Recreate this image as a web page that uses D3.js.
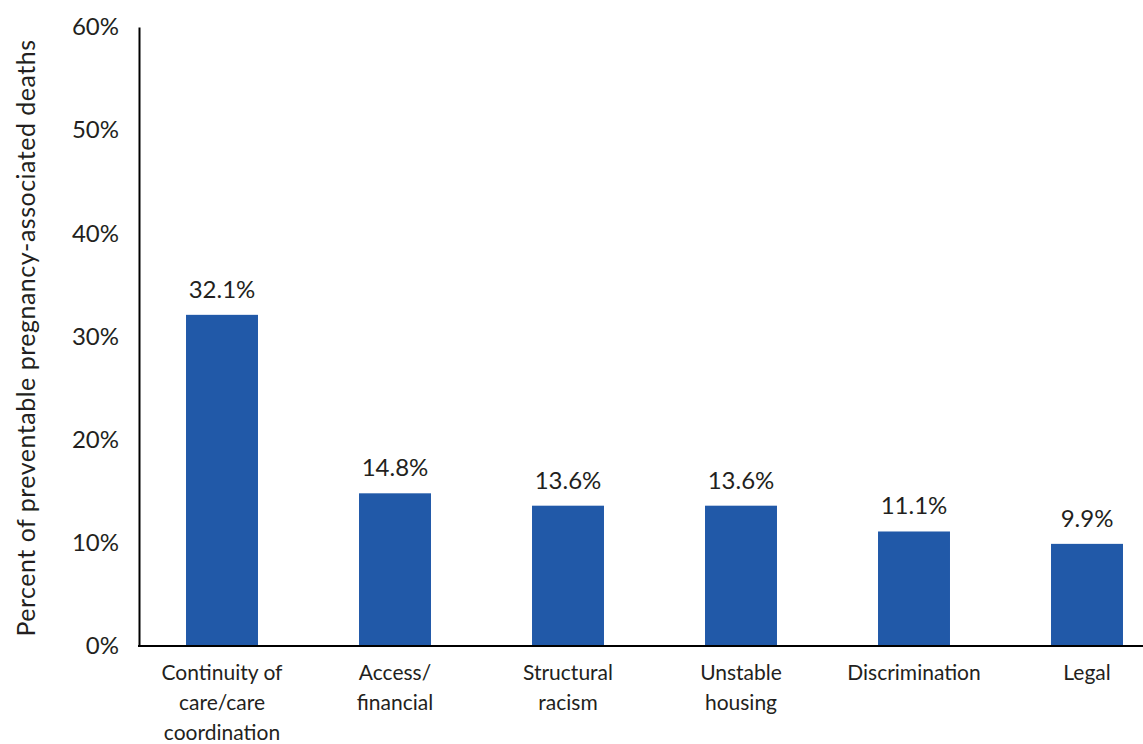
<!DOCTYPE html>
<html>
<head>
<meta charset="utf-8">
<script src="https://cdn.jsdelivr.net/npm/d3@7"></script>
<style>
  html, body { margin: 0; padding: 0; background: #fff; }
  svg { display: block; }
  text { font-family: Lato, "Open Sans", sans-serif; fill: #231f20; }
</style>
</head>
<body>
<svg id="chart" width="1143" height="744"></svg>
<script>
// Contributing factors to preventable pregnancy-associated deaths
const categories = [
  ["Continuity of", "care/care", "coordination"],
  ["Access/", "financial"],
  ["Structural", "racism"],
  ["Unstable", "housing"],
  ["Discrimination"],
  ["Legal"]
];
const values = [32.1, 14.8, 13.6, 13.6, 11.1, 9.9];
const yTicks = [0, 10, 20, 30, 40, 50, 60];
const yTitle = "Percent of preventable pregnancy-associated deaths";

const svg = d3.select("#chart");
const barColor = "#2159a8";

const x = d3.scaleBand()
  .domain(d3.range(categories.length))
  .range([135.5, 1173.5])
  .paddingInner(0.584)
  .paddingOuter(0.292);

const y = d3.scaleLinear().domain([0, 60]).range([646, 27]);

// bars
svg.append("g").selectAll("rect")
  .data(values)
  .join("rect")
  .attr("x", (d, i) => x(i))
  .attr("width", x.bandwidth())
  .attr("y", d => y(d))
  .attr("height", d => y(0) - y(d))
  .attr("fill", barColor);

// value labels
svg.append("g").selectAll("text")
  .data(values)
  .join("text")
  .attr("x", (d, i) => x(i) + x.bandwidth() / 2)
  .attr("y", d => y(d) - 17)
  .attr("text-anchor", "middle")
  .attr("font-size", 24)
  .text(d => d.toFixed(1) + "%");

// y axis
const yAxis = svg.append("g")
  .attr("transform", "translate(139,0)")
  .call(d3.axisLeft(y).tickValues(yTicks).tickSize(0).tickPadding(20).tickFormat(d => d + "%"));
yAxis.select(".domain").attr("stroke", "#000").attr("stroke-width", 2);
yAxis.selectAll("text").attr("font-size", 24).style("font-family", "Lato, 'Open Sans', sans-serif").attr("fill", "#231f20");

// x axis line
svg.append("line")
  .attr("x1", 138).attr("x2", 1143)
  .attr("y1", y(0)).attr("y2", y(0))
  .attr("stroke", "#000").attr("stroke-width", 2);

// category labels
const catG = svg.append("g").selectAll("text")
  .data(categories)
  .join("text")
  .attr("x", (d, i) => x(i) + x.bandwidth() / 2)
  .attr("y", 680)
  .attr("text-anchor", "middle")
  .attr("font-size", 21);
catG.selectAll("tspan")
  .data(d => d)
  .join("tspan")
  .attr("x", function () { return d3.select(this.parentNode).attr("x"); })
  .attr("dy", (d, i) => i === 0 ? 0 : 30)
  .text(d => d);

// y axis title
svg.append("text")
  .attr("transform", "translate(35,338) rotate(-90)")
  .attr("text-anchor", "middle")
  .attr("font-size", 25)
  .attr("letter-spacing", 0.5)
  .text(yTitle);
</script>
</body>
</html>
